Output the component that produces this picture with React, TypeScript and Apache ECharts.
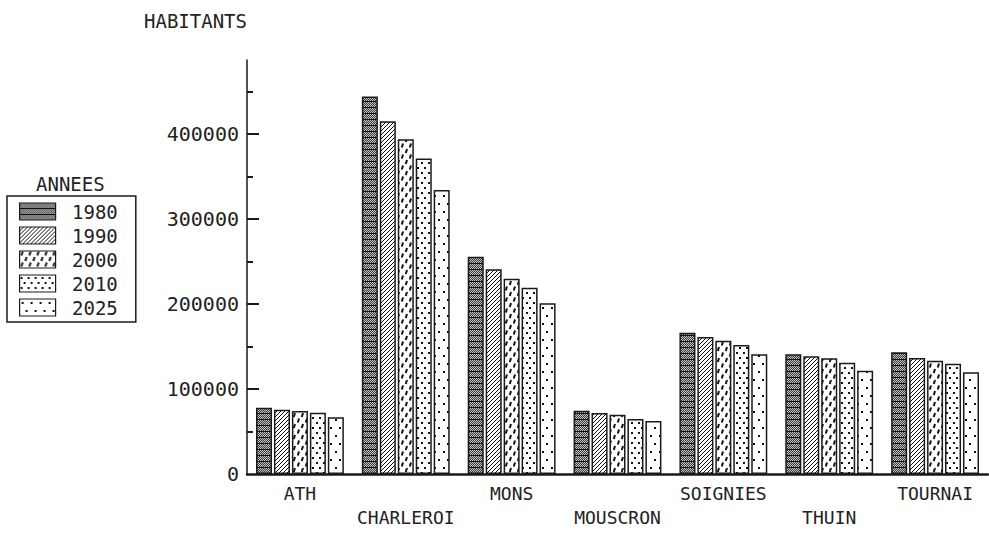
import React, { useEffect, useRef } from "react";
import * as echarts from "echarts";

const categories = ["ATH", "CHARLEROI", "MONS", "MOUSCRON", "SOIGNIES", "THUIN", "TOURNAI"];
const years = ["1980", "1990", "2000", "2010", "2025"];
const v1980 = [78000, 444000, 255600, 74500, 166200, 140800, 143200];
const v1990 = [75600, 415000, 240800, 71800, 161200, 138500, 136500];
const v2000 = [74100, 393800, 229800, 69800, 156800, 136100, 133300];
const v2010 = [72100, 371000, 219200, 64700, 151800, 131000, 129800];
const v2025 = [66700, 334100, 200800, 62400, 140800, 121600, 119600];
const yLabelValues = [0, 100000, 200000, 300000, 400000];
const yMinorValues = [50000, 150000, 250000, 350000, 450000];

const FONT = "'DejaVu Sans Mono', 'Liberation Mono', monospace";
const INK = "#1a1a1a";

function makeTile(w: number, h: number, draw: (c: CanvasRenderingContext2D) => void) {
  const cv = document.createElement("canvas");
  cv.width = w;
  cv.height = h;
  const c = cv.getContext("2d")!;
  c.fillStyle = "#ffffff";
  c.fillRect(0, 0, w, h);
  draw(c);
  return { image: cv, repeat: "repeat", imageWidth: w, imageHeight: h } as any;
}

function patterns() {
  const p1980 = makeTile(4, 6, (c) => {
    c.fillStyle = "#3a3a3a";
    c.fillRect(0, 0, 4, 6);
    c.fillStyle = "#c4c4c4";
    for (let y = 0; y < 5; y++) {
      for (let x = 0; x < 4; x++) {
        if ((x + y) % 2 === 0) c.fillRect(x, y, 1, 1);
      }
    }
    c.fillStyle = "#111";
    c.fillRect(0, 5, 4, 1);
  });
  const p1990 = makeTile(4, 4, (c) => {
    c.fillStyle = "#111";
    c.fillRect(3, 0, 1, 1);
    c.fillRect(2, 1, 1, 1);
    c.fillRect(1, 2, 1, 1);
    c.fillRect(0, 3, 1, 1);
  });
  const p2000 = makeTile(8, 11, (c) => {
    c.strokeStyle = "#111";
    c.lineWidth = 2;
    c.beginPath();
    c.moveTo(3, 0.5);
    c.lineTo(1.8, 4.5);
    c.moveTo(7, 6);
    c.lineTo(5.8, 10);
    c.stroke();
  });
  const p2010 = makeTile(7, 10, (c) => {
    c.fillStyle = "#111";
    c.fillRect(1, 2, 2, 2);
    c.fillRect(4, 7, 2, 2);
  });
  const p2025 = makeTile(9, 16, (c) => {
    c.fillStyle = "#111";
    c.fillRect(2, 3, 2, 2);
    c.fillRect(6, 11, 2, 2);
  });
  return [p1980, p1990, p2000, p2010, p2025];
}

export default function App() {
  const ref = useRef<HTMLDivElement>(null);
  useEffect(() => {
    document.body.style.margin = "0";
    const chart = echarts.init(ref.current!, null, { renderer: "svg" });
    const pats = patterns();
    const values = [v1980, v1990, v2000, v2010, v2025];
    const series = years.map((y, i) => ({
      name: y,
      type: "bar",
      data: values[i],
      barGap: "12%",
      barCategoryGap: "17%",
      itemStyle: { color: pats[i], borderColor: INK, borderWidth: 1.5 },
    }));
    chart.setOption({
      animation: false,
      backgroundColor: "#ffffff",
      grid: { left: 247, right: 1, top: 60, bottom: 61, containLabel: false },
      xAxis: {
        type: "category",
        data: categories,
        axisLine: { lineStyle: { color: INK, width: 2.5 } },
        axisTick: { show: false },
        axisLabel: {
          interval: 0,
          margin: 7,
          fontFamily: FONT,
          fontSize: 18,
          lineHeight: 24,
          color: "#222",
          formatter: (v: string, i: number) => (i % 2 === 1 ? "\n" + v : v),
        },
      },
      yAxis: [
        {
          type: "value",
          min: 0,
          max: 487000,
          splitLine: { show: false },
          axisLine: { show: true, lineStyle: { color: INK, width: 1.5 } },
          axisTick: {
            show: true,
            inside: true,
            length: 12,
            lineStyle: { color: INK, width: 2 },
            customValues: yLabelValues.slice(1),
          },
          axisLabel: {
            margin: 8,
            fontFamily: FONT,
            fontSize: 20,
            color: "#222",
            customValues: yLabelValues,
            formatter: (v: number) => String(v),
          },
        },
        {
          type: "value",
          position: "left",
          min: 0,
          max: 487000,
          splitLine: { show: false },
          axisLine: { show: false },
          axisLabel: { show: false },
          axisTick: {
            show: true,
            inside: true,
            length: 6,
            lineStyle: { color: INK, width: 2 },
            customValues: yMinorValues,
          },
        },
      ],
      legend: {
        orient: "vertical",
        left: 7,
        top: 196,
        icon: "rect",
        itemWidth: 36,
        itemHeight: 17,
        itemGap: 5,
        padding: [6, 18, 5, 12],
        borderColor: INK,
        borderWidth: 1.5,
        formatter: (n: string) => " " + n,
        textStyle: { fontFamily: FONT, fontSize: 19, lineHeight: 18, color: "#222" },
        itemStyle: { borderColor: INK, borderWidth: 1.2 },
        data: years,
      },
      graphic: [
        {
          type: "text",
          left: 144,
          top: 11,
          style: { text: "HABITANTS", font: `19px ${FONT}`, fill: "#222" },
        },
        {
          type: "text",
          left: 36,
          top: 174,
          style: { text: "ANNEES", font: `19px ${FONT}`, fill: "#222" },
        },
      ],
      series,
    });
    return () => chart.dispose();
  }, []);
  return <div ref={ref} style={{ width: 989, height: 535 }} />;
}
